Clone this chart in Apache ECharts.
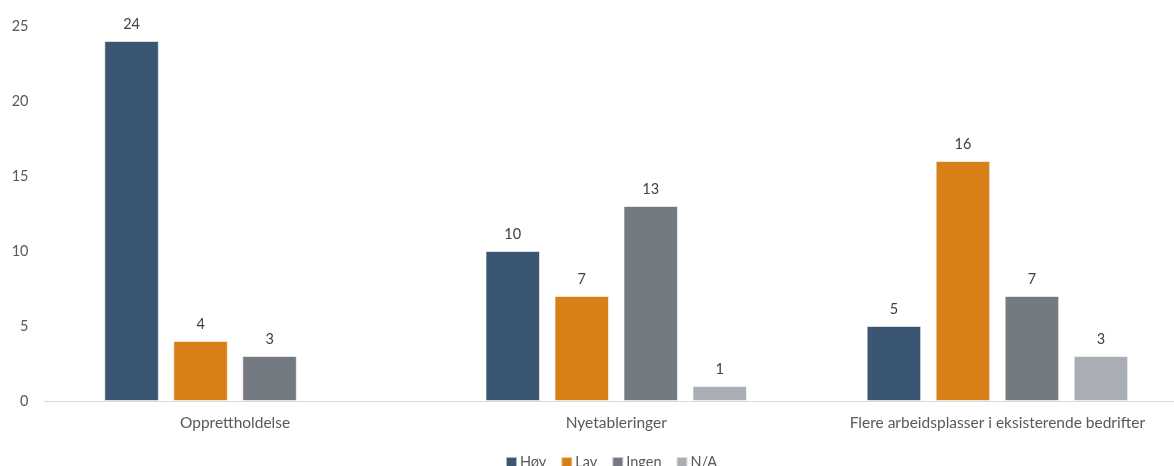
<!DOCTYPE html>
<html>
<head>
<meta charset="utf-8">
<script src="https://cdn.jsdelivr.net/npm/echarts@6/dist/echarts.min.js"></script>
<style>
  html, body { margin: 0; padding: 0; overflow: hidden; background: #fff; }
  #main { width: 1188px; height: 466px; }
</style>
</head>
<body>
<div id="main"></div>
<script>
// kategorier og verdier
const categories = ["Opprettholdelse", "Nyetableringer", "Flere arbeidsplasser i eksisterende bedrifter"];
const hoy = [24, 10, 5];
const lav = [4, 7, 16];
const ingen = [3, 13, 7];
const na = [null, 1, 3];
const yTicks = [0, 5, 10, 15, 20, 25];

const colors = ["#3a5673", "#d97f17", "#737a82", "#a8aeb4"];
const font = "Lato, 'Open Sans', sans-serif";

const myChart = echarts.init(document.getElementById("main"));

const makeSeries = (name, data) => ({
  name: name,
  type: "bar",
  data: data,
  barWidth: 54.5,
  barGap: "26.6%",
  itemStyle: { borderColor: "rgba(255,255,255,0.6)", borderWidth: 1 },
  label: {
    show: true,
    position: "top",
    distance: 9,
    color: "#404040",
    fontSize: 14.5,
    fontFamily: font,
  },
});

const option = {
  color: colors,
  animation: false,
  textStyle: { fontFamily: font },
  legend: {
    left: 500,
    top: 450,
    itemWidth: 11,
    itemHeight: 11,
    itemGap: 14,
    icon: "rect",
    textStyle: { color: "#595959", fontSize: 14.5, fontFamily: font, padding: [0, 0, 0, -2] },
    data: ["Høy", "Lav", "Ingen", "N/A"],
  },
  grid: { left: 44.5, right: 0, top: 26, bottom: 65, containLabel: false },
  xAxis: {
    type: "category",
    data: categories,
    axisLine: { lineStyle: { color: "#d9d9d9", width: 1 } },
    axisTick: { show: false },
    axisLabel: { interval: 0, color: "#595959", fontSize: 15.5, fontFamily: font, margin: 14 },
  },
  yAxis: {
    type: "value",
    min: yTicks[0],
    max: yTicks[yTicks.length - 1],
    interval: 5,
    splitLine: { show: false },
    axisLine: { show: false },
    axisTick: { show: false },
    axisLabel: { color: "#595959", fontSize: 14.5, fontFamily: font, margin: 16 },
  },
  series: [
    makeSeries("Høy", hoy),
    makeSeries("Lav", lav),
    makeSeries("Ingen", ingen),
    makeSeries("N/A", na),
  ],
};
myChart.setOption(option);
</script>
</body>
</html>
